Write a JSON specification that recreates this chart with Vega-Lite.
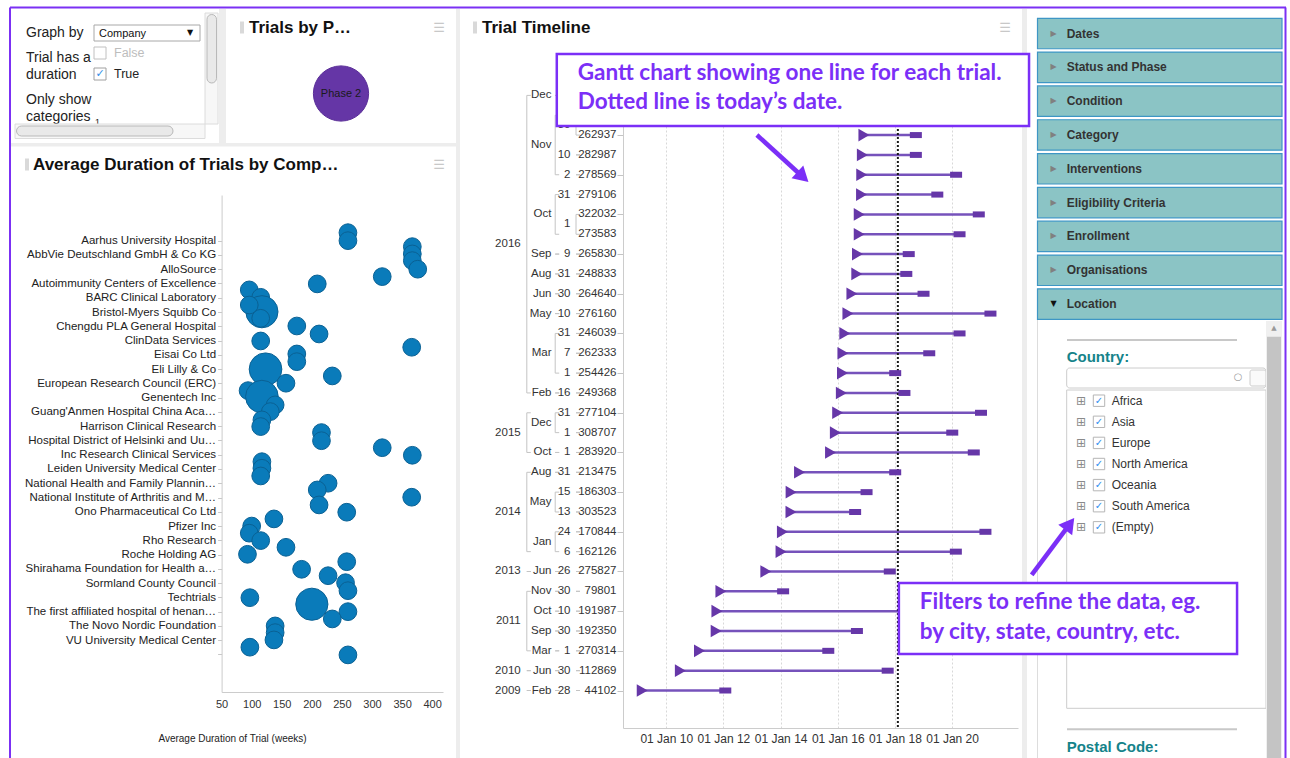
{
  "$schema": "https://vega.github.io/schema/vega-lite/v6.json",
  "autosize": {"type": "none"},
  "padding": {"left": 623, "top": 85, "right": 272, "bottom": 30},
  "width": 395,
  "height": 643,
  "background": "white",
  "config": {"font": "Liberation Sans", "view": {"stroke": null}},
  "data": {"values": [{}]},
  "datasets": {
    "trials": [
      {"row": 1, "id": "279994", "start": "2016-12-05", "end": "2019-02-01"},
      {"row": 2, "id": "281770", "start": "2016-11-30", "end": "2019-05-15"},
      {"row": 3, "id": "262937", "start": "2016-11-30", "end": "2018-09-25"},
      {"row": 4, "id": "282987", "start": "2016-11-10", "end": "2018-09-25"},
      {"row": 5, "id": "278569", "start": "2016-11-02", "end": "2020-02-21"},
      {"row": 6, "id": "279106", "start": "2016-10-31", "end": "2019-06-26"},
      {"row": 7, "id": "322032", "start": "2016-10-01", "end": "2020-12-07"},
      {"row": 8, "id": "273583", "start": "2016-10-01", "end": "2020-04-05"},
      {"row": 9, "id": "265830", "start": "2016-09-09", "end": "2018-06-26"},
      {"row": 10, "id": "248833", "start": "2016-08-31", "end": "2018-05-26"},
      {"row": 11, "id": "264640", "start": "2016-06-30", "end": "2019-01-01"},
      {"row": 12, "id": "276160", "start": "2016-05-10", "end": "2021-05-05"},
      {"row": 13, "id": "246039", "start": "2016-03-31", "end": "2020-04-05"},
      {"row": 14, "id": "262333", "start": "2016-03-07", "end": "2019-03-15"},
      {"row": 15, "id": "254426", "start": "2016-03-01", "end": "2018-01-04"},
      {"row": 16, "id": "249368", "start": "2016-02-16", "end": "2018-05-02"},
      {"row": 17, "id": "277104", "start": "2015-12-31", "end": "2021-01-04"},
      {"row": 18, "id": "308707", "start": "2015-12-01", "end": "2020-01-03"},
      {"row": 19, "id": "283920", "start": "2015-10-01", "end": "2020-10-04"},
      {"row": 20, "id": "213475", "start": "2014-08-31", "end": "2018-01-04"},
      {"row": 21, "id": "186303", "start": "2014-05-15", "end": "2017-01-03"},
      {"row": 22, "id": "303523", "start": "2014-05-13", "end": "2016-08-10"},
      {"row": 23, "id": "170844", "start": "2014-01-24", "end": "2021-03-02"},
      {"row": 24, "id": "162126", "start": "2014-01-06", "end": "2020-02-18"},
      {"row": 25, "id": "275827", "start": "2013-06-26", "end": "2017-10-27"},
      {"row": 26, "id": "79801", "start": "2011-11-30", "end": "2014-02-02"},
      {"row": 27, "id": "191987", "start": "2011-10-10", "end": "2020-06-01"},
      {"row": 28, "id": "192350", "start": "2011-09-30", "end": "2016-09-02"},
      {"row": 29, "id": "270314", "start": "2011-03-01", "end": "2015-09-02"},
      {"row": 30, "id": "112869", "start": "2010-06-30", "end": "2017-09-30"},
      {"row": 31, "id": "44102", "start": "2009-02-28", "end": "2012-01-25"}
    ],
    "groups": [
      {"level": "year", "label": "2016", "from": 1, "to": 16, "mid": 8.5},
      {"level": "year", "label": "2015", "from": 17, "to": 19, "mid": 18},
      {"level": "year", "label": "2014", "from": 20, "to": 24, "mid": 22},
      {"level": "year", "label": "2013", "from": 25, "to": 25, "mid": 25},
      {"level": "year", "label": "2011", "from": 26, "to": 29, "mid": 27.5},
      {"level": "year", "label": "2010", "from": 30, "to": 30, "mid": 30},
      {"level": "year", "label": "2009", "from": 31, "to": 31, "mid": 31},
      {"level": "month", "label": "Dec", "from": 1, "to": 1, "mid": 1},
      {"level": "month", "label": "Nov", "from": 2, "to": 5, "mid": 3.5},
      {"level": "month", "label": "Oct", "from": 6, "to": 8, "mid": 7},
      {"level": "month", "label": "Sep", "from": 9, "to": 9, "mid": 9},
      {"level": "month", "label": "Aug", "from": 10, "to": 10, "mid": 10},
      {"level": "month", "label": "Jun", "from": 11, "to": 11, "mid": 11},
      {"level": "month", "label": "May", "from": 12, "to": 12, "mid": 12},
      {"level": "month", "label": "Mar", "from": 13, "to": 15, "mid": 14},
      {"level": "month", "label": "Feb", "from": 16, "to": 16, "mid": 16},
      {"level": "month", "label": "Dec", "from": 17, "to": 18, "mid": 17.5},
      {"level": "month", "label": "Oct", "from": 19, "to": 19, "mid": 19},
      {"level": "month", "label": "Aug", "from": 20, "to": 20, "mid": 20},
      {"level": "month", "label": "May", "from": 21, "to": 22, "mid": 21.5},
      {"level": "month", "label": "Jan", "from": 23, "to": 24, "mid": 23.5},
      {"level": "month", "label": "Jun", "from": 25, "to": 25, "mid": 25},
      {"level": "month", "label": "Nov", "from": 26, "to": 26, "mid": 26},
      {"level": "month", "label": "Oct", "from": 27, "to": 27, "mid": 27},
      {"level": "month", "label": "Sep", "from": 28, "to": 28, "mid": 28},
      {"level": "month", "label": "Mar", "from": 29, "to": 29, "mid": 29},
      {"level": "month", "label": "Jun", "from": 30, "to": 30, "mid": 30},
      {"level": "month", "label": "Feb", "from": 31, "to": 31, "mid": 31},
      {"level": "day", "label": "30", "from": 2, "to": 3, "mid": 2.5},
      {"level": "day", "label": "10", "from": 4, "to": 4, "mid": 4},
      {"level": "day", "label": "2", "from": 5, "to": 5, "mid": 5},
      {"level": "day", "label": "31", "from": 6, "to": 6, "mid": 6},
      {"level": "day", "label": "1", "from": 7, "to": 8, "mid": 7.5},
      {"level": "day", "label": "9", "from": 9, "to": 9, "mid": 9},
      {"level": "day", "label": "31", "from": 10, "to": 10, "mid": 10},
      {"level": "day", "label": "30", "from": 11, "to": 11, "mid": 11},
      {"level": "day", "label": "10", "from": 12, "to": 12, "mid": 12},
      {"level": "day", "label": "31", "from": 13, "to": 13, "mid": 13},
      {"level": "day", "label": "7", "from": 14, "to": 14, "mid": 14},
      {"level": "day", "label": "1", "from": 15, "to": 15, "mid": 15},
      {"level": "day", "label": "16", "from": 16, "to": 16, "mid": 16},
      {"level": "day", "label": "31", "from": 17, "to": 17, "mid": 17},
      {"level": "day", "label": "1", "from": 18, "to": 18, "mid": 18},
      {"level": "day", "label": "1", "from": 19, "to": 19, "mid": 19},
      {"level": "day", "label": "31", "from": 20, "to": 20, "mid": 20},
      {"level": "day", "label": "15", "from": 21, "to": 21, "mid": 21},
      {"level": "day", "label": "13", "from": 22, "to": 22, "mid": 22},
      {"level": "day", "label": "24", "from": 23, "to": 23, "mid": 23},
      {"level": "day", "label": "6", "from": 24, "to": 24, "mid": 24},
      {"level": "day", "label": "26", "from": 25, "to": 25, "mid": 25},
      {"level": "day", "label": "30", "from": 26, "to": 26, "mid": 26},
      {"level": "day", "label": "10", "from": 27, "to": 27, "mid": 27},
      {"level": "day", "label": "30", "from": 28, "to": 28, "mid": 28},
      {"level": "day", "label": "1", "from": 29, "to": 29, "mid": 29},
      {"level": "day", "label": "30", "from": 30, "to": 30, "mid": 30},
      {"level": "day", "label": "28", "from": 31, "to": 31, "mid": 31}
    ],
    "bubbles": [
      {"company": "Aarhus University Hospital", "weeks": 260, "pos": 0.44, "trials": 1},
      {"company": "Aarhus University Hospital", "weeks": 260, "pos": 1.0, "trials": 1},
      {"company": "Aarhus University Hospital", "weeks": 367, "pos": 1.42, "trials": 1},
      {"company": "AbbVie Deutschland GmbH & Co KG", "weeks": 367, "pos": 1.93, "trials": 1},
      {"company": "AbbVie Deutschland GmbH & Co KG", "weeks": 367, "pos": 2.4, "trials": 1},
      {"company": "AlloSource", "weeks": 376, "pos": 3.0, "trials": 1},
      {"company": "Autoimmunity Centers of Excellence", "weeks": 317, "pos": 3.52, "trials": 1},
      {"company": "Autoimmunity Centers of Excellence", "weeks": 209, "pos": 4.03, "trials": 1},
      {"company": "Autoimmunity Centers of Excellence", "weeks": 96, "pos": 4.45, "trials": 1},
      {"company": "BARC Clinical Laboratory", "weeks": 115, "pos": 4.97, "trials": 1},
      {"company": "Bristol-Myers Squibb Co", "weeks": 117, "pos": 5.98, "trials": 3.3},
      {"company": "Bristol-Myers Squibb Co", "weeks": 96, "pos": 5.51, "trials": 1},
      {"company": "Bristol-Myers Squibb Co", "weeks": 115, "pos": 6.44, "trials": 1},
      {"company": "Chengdu PLA General Hospital", "weeks": 175, "pos": 6.98, "trials": 1},
      {"company": "ClinData Services", "weeks": 212, "pos": 7.54, "trials": 1},
      {"company": "ClinData Services", "weeks": 115, "pos": 8.03, "trials": 1},
      {"company": "ClinData Services", "weeks": 366, "pos": 8.47, "trials": 1},
      {"company": "Eisai Co Ltd", "weeks": 175, "pos": 8.94, "trials": 1},
      {"company": "Eisai Co Ltd", "weeks": 175, "pos": 9.48, "trials": 1},
      {"company": "Eli Lilly & Co", "weeks": 123, "pos": 10.01, "trials": 3.4},
      {"company": "Eli Lilly & Co", "weeks": 234, "pos": 10.48, "trials": 1},
      {"company": "European Research Council (ERC)", "weeks": 157, "pos": 10.99, "trials": 1},
      {"company": "Genentech Inc", "weeks": 94, "pos": 11.51, "trials": 1},
      {"company": "Genentech Inc", "weeks": 117, "pos": 11.93, "trials": 3.4},
      {"company": "Guang'Anmen Hospital China Academy", "weeks": 139, "pos": 12.51, "trials": 1},
      {"company": "Guang'Anmen Hospital China Academy", "weeks": 131, "pos": 12.98, "trials": 1},
      {"company": "Harrison Clinical Research", "weeks": 117, "pos": 13.56, "trials": 1},
      {"company": "Harrison Clinical Research", "weeks": 115, "pos": 14.03, "trials": 1},
      {"company": "Harrison Clinical Research", "weeks": 216, "pos": 14.45, "trials": 1},
      {"company": "Hospital District of Helsinki and Uusimaa", "weeks": 216, "pos": 15.02, "trials": 1},
      {"company": "Inc Research Clinical Services", "weeks": 317, "pos": 15.51, "trials": 1},
      {"company": "Inc Research Clinical Services", "weeks": 367, "pos": 16.04, "trials": 1},
      {"company": "Inc Research Clinical Services", "weeks": 117, "pos": 16.49, "trials": 1},
      {"company": "Leiden University Medical Center", "weeks": 117, "pos": 16.95, "trials": 1},
      {"company": "Leiden University Medical Center", "weeks": 115, "pos": 17.49, "trials": 1},
      {"company": "National Health and Family Planning Commission", "weeks": 227, "pos": 18.0, "trials": 1},
      {"company": "National Health and Family Planning Commission", "weeks": 209, "pos": 18.47, "trials": 1},
      {"company": "National Institute of Arthritis and Musculoskeletal", "weeks": 366, "pos": 18.98, "trials": 1},
      {"company": "Ono Pharmaceutical Co Ltd", "weeks": 212, "pos": 19.52, "trials": 1},
      {"company": "Ono Pharmaceutical Co Ltd", "weeks": 258, "pos": 20.03, "trials": 1},
      {"company": "Pfizer Inc", "weeks": 137, "pos": 20.5, "trials": 1},
      {"company": "Pfizer Inc", "weeks": 100, "pos": 21.0, "trials": 1},
      {"company": "Rho Research", "weeks": 96, "pos": 21.5, "trials": 1},
      {"company": "Rho Research", "weeks": 115, "pos": 22.02, "trials": 1},
      {"company": "Rho Research", "weeks": 157, "pos": 22.49, "trials": 1},
      {"company": "Roche Holding AG", "weeks": 93, "pos": 22.98, "trials": 1},
      {"company": "Shirahama Foundation for Health and Aging", "weeks": 258, "pos": 23.5, "trials": 1},
      {"company": "Shirahama Foundation for Health and Aging", "weeks": 183, "pos": 24.03, "trials": 1},
      {"company": "Shirahama Foundation for Health and Aging", "weeks": 227, "pos": 24.48, "trials": 1},
      {"company": "Sormland County Council", "weeks": 256, "pos": 24.97, "trials": 1},
      {"company": "Techtrials", "weeks": 260, "pos": 25.53, "trials": 1},
      {"company": "Techtrials", "weeks": 97, "pos": 26.02, "trials": 1},
      {"company": "Techtrials", "weeks": 200, "pos": 26.48, "trials": 3.3},
      {"company": "The first affiliated hospital of henan", "weeks": 260, "pos": 27.0, "trials": 1},
      {"company": "The Novo Nordic Foundation", "weeks": 234, "pos": 27.51, "trials": 1},
      {"company": "The Novo Nordic Foundation", "weeks": 139, "pos": 28.0, "trials": 1},
      {"company": "The Novo Nordic Foundation", "weeks": 139, "pos": 28.47, "trials": 1},
      {"company": "VU University Medical Center", "weeks": 137, "pos": 28.98, "trials": 1},
      {"company": "VU University Medical Center", "weeks": 97, "pos": 29.49, "trials": 1},
      {"company": "", "weeks": 260, "pos": 30.03, "trials": 1}
    ],
    "filters": [
      {"name": "Dates", "order": 1, "open": false},
      {"name": "Status and Phase", "order": 2, "open": false},
      {"name": "Condition", "order": 3, "open": false},
      {"name": "Category", "order": 4, "open": false},
      {"name": "Interventions", "order": 5, "open": false},
      {"name": "Eligibility Criteria", "order": 6, "open": false},
      {"name": "Enrollment", "order": 7, "open": false},
      {"name": "Organisations", "order": 8, "open": false},
      {"name": "Location", "order": 9, "open": true}
    ],
    "countries": [
      {"name": "Africa", "order": 1},
      {"name": "Asia", "order": 2},
      {"name": "Europe", "order": 3},
      {"name": "North America", "order": 4},
      {"name": "Oceania", "order": 5},
      {"name": "South America", "order": 6},
      {"name": "(Empty)", "order": 7}
    ]
  },
  "resolve": {"scale": {"x": "independent", "y": "independent"}},
  "layer": [
    {
      "layer": [
        {"mark": {"type": "rect", "fill": "#ededed"}, "encoding": {"x": {"datum": 219, "type": "quantitative", "scale": {"domain": [0, 1290], "range": [-623, 667]}, "axis": null}, "x2": {"datum": 226}, "y": {"datum": 9, "type": "quantitative", "scale": {"domain": [0, 758], "range": [-85, 673]}, "axis": null}, "y2": {"datum": 144}}},
        {"mark": {"type": "rect", "fill": "#ededed"}, "encoding": {"x": {"datum": 11, "type": "quantitative", "scale": {"domain": [0, 1290], "range": [-623, 667]}, "axis": null}, "x2": {"datum": 456}, "y": {"datum": 143, "type": "quantitative", "scale": {"domain": [0, 758], "range": [-85, 673]}, "axis": null}, "y2": {"datum": 146.5}}},
        {"mark": {"type": "rect", "fill": "#ededed"}, "encoding": {"x": {"datum": 456, "type": "quantitative", "scale": {"domain": [0, 1290], "range": [-623, 667]}, "axis": null}, "x2": {"datum": 460}, "y": {"datum": 9, "type": "quantitative", "scale": {"domain": [0, 758], "range": [-85, 673]}, "axis": null}, "y2": {"datum": 758}}},
        {"mark": {"type": "rect", "fill": "#ededed"}, "encoding": {"x": {"datum": 1022, "type": "quantitative", "scale": {"domain": [0, 1290], "range": [-623, 667]}, "axis": null}, "x2": {"datum": 1027}, "y": {"datum": 9, "type": "quantitative", "scale": {"domain": [0, 758], "range": [-85, 673]}, "axis": null}, "y2": {"datum": 758}}},
        {"mark": {"type": "rule", "color": "#dddddd"}, "encoding": {"x": {"datum": 1037.5, "type": "quantitative", "scale": {"domain": [0, 1290], "range": [-623, 667]}, "axis": null}, "y": {"datum": 320, "type": "quantitative", "scale": {"domain": [0, 758], "range": [-85, 673]}, "axis": null}, "y2": {"datum": 758}}},
        {"mark": {"type": "rule", "color": "#7b30f4", "strokeWidth": 2}, "encoding": {"x": {"datum": 10, "type": "quantitative", "scale": {"domain": [0, 1290], "range": [-623, 667]}, "axis": null}, "x2": {"datum": 1286}, "y": {"datum": 7.5, "type": "quantitative", "scale": {"domain": [0, 758], "range": [-85, 673]}, "axis": null}}},
        {"mark": {"type": "rule", "color": "#7b30f4", "strokeWidth": 2}, "encoding": {"x": {"datum": 10, "type": "quantitative", "scale": {"domain": [0, 1290], "range": [-623, 667]}, "axis": null}, "y": {"datum": 7.5, "type": "quantitative", "scale": {"domain": [0, 758], "range": [-85, 673]}, "axis": null}, "y2": {"datum": 758}}},
        {"mark": {"type": "rule", "color": "#7b30f4", "strokeWidth": 2}, "encoding": {"x": {"datum": 1285.5, "type": "quantitative", "scale": {"domain": [0, 1290], "range": [-623, 667]}, "axis": null}, "y": {"datum": 7.5, "type": "quantitative", "scale": {"domain": [0, 758], "range": [-85, 673]}, "axis": null}, "y2": {"datum": 758}}},
        {"mark": {"type": "text", "text": "Graph by", "align": "left", "baseline": "middle", "fontSize": 14, "color": "#222222"}, "encoding": {"x": {"datum": 26, "type": "quantitative", "scale": {"domain": [0, 1290], "range": [-623, 667]}, "axis": null}, "y": {"datum": 33, "type": "quantitative", "scale": {"domain": [0, 758], "range": [-85, 673]}, "axis": null}}},
        {"mark": {"type": "rect", "fill": "white", "stroke": "#a8a8a8"}, "encoding": {"x": {"datum": 94, "type": "quantitative", "scale": {"domain": [0, 1290], "range": [-623, 667]}, "axis": null}, "x2": {"datum": 200}, "y": {"datum": 25, "type": "quantitative", "scale": {"domain": [0, 758], "range": [-85, 673]}, "axis": null}, "y2": {"datum": 41}}},
        {"mark": {"type": "text", "text": "Company", "align": "left", "baseline": "middle", "fontSize": 11, "color": "#111111"}, "encoding": {"x": {"datum": 99, "type": "quantitative", "scale": {"domain": [0, 1290], "range": [-623, 667]}, "axis": null}, "y": {"datum": 33.5, "type": "quantitative", "scale": {"domain": [0, 758], "range": [-85, 673]}, "axis": null}}},
        {"mark": {"type": "text", "text": "▼", "align": "center", "baseline": "middle", "fontSize": 8, "font": "DejaVu Sans", "color": "#111111"}, "encoding": {"x": {"datum": 190, "type": "quantitative", "scale": {"domain": [0, 1290], "range": [-623, 667]}, "axis": null}, "y": {"datum": 33, "type": "quantitative", "scale": {"domain": [0, 758], "range": [-85, 673]}, "axis": null}}},
        {"mark": {"type": "text", "text": "Trial has a", "align": "left", "baseline": "middle", "fontSize": 14, "color": "#222222"}, "encoding": {"x": {"datum": 26, "type": "quantitative", "scale": {"domain": [0, 1290], "range": [-623, 667]}, "axis": null}, "y": {"datum": 57.5, "type": "quantitative", "scale": {"domain": [0, 758], "range": [-85, 673]}, "axis": null}}},
        {"mark": {"type": "text", "text": "duration", "align": "left", "baseline": "middle", "fontSize": 14, "color": "#222222"}, "encoding": {"x": {"datum": 26, "type": "quantitative", "scale": {"domain": [0, 1290], "range": [-623, 667]}, "axis": null}, "y": {"datum": 74.5, "type": "quantitative", "scale": {"domain": [0, 758], "range": [-85, 673]}, "axis": null}}},
        {"mark": {"type": "rect", "fill": "white", "stroke": "#c0c0c0"}, "encoding": {"x": {"datum": 94, "type": "quantitative", "scale": {"domain": [0, 1290], "range": [-623, 667]}, "axis": null}, "x2": {"datum": 106}, "y": {"datum": 47, "type": "quantitative", "scale": {"domain": [0, 758], "range": [-85, 673]}, "axis": null}, "y2": {"datum": 59}}},
        {"mark": {"type": "text", "text": "False", "align": "left", "baseline": "middle", "fontSize": 12.5, "color": "#bdbdbd"}, "encoding": {"x": {"datum": 114, "type": "quantitative", "scale": {"domain": [0, 1290], "range": [-623, 667]}, "axis": null}, "y": {"datum": 53, "type": "quantitative", "scale": {"domain": [0, 758], "range": [-85, 673]}, "axis": null}}},
        {"mark": {"type": "rect", "fill": "white", "stroke": "#a0a0a0"}, "encoding": {"x": {"datum": 94, "type": "quantitative", "scale": {"domain": [0, 1290], "range": [-623, 667]}, "axis": null}, "x2": {"datum": 106}, "y": {"datum": 68, "type": "quantitative", "scale": {"domain": [0, 758], "range": [-85, 673]}, "axis": null}, "y2": {"datum": 80}}},
        {"mark": {"type": "text", "text": "✓", "align": "center", "baseline": "middle", "fontSize": 11, "font": "DejaVu Sans", "color": "#3390e8"}, "encoding": {"x": {"datum": 100, "type": "quantitative", "scale": {"domain": [0, 1290], "range": [-623, 667]}, "axis": null}, "y": {"datum": 74, "type": "quantitative", "scale": {"domain": [0, 758], "range": [-85, 673]}, "axis": null}}},
        {"mark": {"type": "text", "text": "True", "align": "left", "baseline": "middle", "fontSize": 12.5, "color": "#222222"}, "encoding": {"x": {"datum": 114, "type": "quantitative", "scale": {"domain": [0, 1290], "range": [-623, 667]}, "axis": null}, "y": {"datum": 74, "type": "quantitative", "scale": {"domain": [0, 758], "range": [-85, 673]}, "axis": null}}},
        {"mark": {"type": "text", "text": "Only show", "align": "left", "baseline": "middle", "fontSize": 14, "color": "#222222"}, "encoding": {"x": {"datum": 26, "type": "quantitative", "scale": {"domain": [0, 1290], "range": [-623, 667]}, "axis": null}, "y": {"datum": 99.5, "type": "quantitative", "scale": {"domain": [0, 758], "range": [-85, 673]}, "axis": null}}},
        {"mark": {"type": "text", "text": "categories", "align": "left", "baseline": "middle", "fontSize": 14, "color": "#222222"}, "encoding": {"x": {"datum": 26, "type": "quantitative", "scale": {"domain": [0, 1290], "range": [-623, 667]}, "axis": null}, "y": {"datum": 117, "type": "quantitative", "scale": {"domain": [0, 758], "range": [-85, 673]}, "axis": null}}},
        {"mark": {"type": "text", "text": "1", "align": "left", "baseline": "middle", "fontSize": 9, "color": "#222222"}, "encoding": {"x": {"datum": 95, "type": "quantitative", "scale": {"domain": [0, 1290], "range": [-623, 667]}, "axis": null}, "y": {"datum": 121.5, "type": "quantitative", "scale": {"domain": [0, 758], "range": [-85, 673]}, "axis": null}}},
        {"mark": {"type": "rect", "fill": "#f7f7f7", "stroke": "#dcdcdc"}, "encoding": {"x": {"datum": 205, "type": "quantitative", "scale": {"domain": [0, 1290], "range": [-623, 667]}, "axis": null}, "x2": {"datum": 218}, "y": {"datum": 13, "type": "quantitative", "scale": {"domain": [0, 758], "range": [-85, 673]}, "axis": null}, "y2": {"datum": 124}}},
        {"mark": {"type": "rect", "fill": "#e9e9e9", "stroke": "#b9b9b9", "cornerRadius": 5}, "encoding": {"x": {"datum": 207, "type": "quantitative", "scale": {"domain": [0, 1290], "range": [-623, 667]}, "axis": null}, "x2": {"datum": 216.5}, "y": {"datum": 14.5, "type": "quantitative", "scale": {"domain": [0, 758], "range": [-85, 673]}, "axis": null}, "y2": {"datum": 83}}},
        {"mark": {"type": "rect", "fill": "#f7f7f7", "stroke": "#dcdcdc"}, "encoding": {"x": {"datum": 15, "type": "quantitative", "scale": {"domain": [0, 1290], "range": [-623, 667]}, "axis": null}, "x2": {"datum": 205}, "y": {"datum": 124, "type": "quantitative", "scale": {"domain": [0, 758], "range": [-85, 673]}, "axis": null}, "y2": {"datum": 138.5}}},
        {"mark": {"type": "rect", "fill": "#e9e9e9", "stroke": "#b9b9b9", "cornerRadius": 5}, "encoding": {"x": {"datum": 16.5, "type": "quantitative", "scale": {"domain": [0, 1290], "range": [-623, 667]}, "axis": null}, "x2": {"datum": 173}, "y": {"datum": 126, "type": "quantitative", "scale": {"domain": [0, 758], "range": [-85, 673]}, "axis": null}, "y2": {"datum": 136}}},
        {"mark": {"type": "rect", "fill": "#d9d9d9"}, "encoding": {"x": {"datum": 240, "type": "quantitative", "scale": {"domain": [0, 1290], "range": [-623, 667]}, "axis": null}, "x2": {"datum": 244}, "y": {"datum": 21.5, "type": "quantitative", "scale": {"domain": [0, 758], "range": [-85, 673]}, "axis": null}, "y2": {"datum": 33.5}}},
        {"mark": {"type": "text", "text": "Trials by P…", "align": "left", "baseline": "middle", "fontSize": 17, "fontWeight": "bold", "color": "#111111"}, "encoding": {"x": {"datum": 249, "type": "quantitative", "scale": {"domain": [0, 1290], "range": [-623, 667]}, "axis": null}, "y": {"datum": 27.5, "type": "quantitative", "scale": {"domain": [0, 758], "range": [-85, 673]}, "axis": null}}},
        {"mark": {"type": "text", "text": "☰", "align": "center", "baseline": "middle", "fontSize": 13, "font": "DejaVu Sans", "color": "#c8c8c8"}, "encoding": {"x": {"datum": 439, "type": "quantitative", "scale": {"domain": [0, 1290], "range": [-623, 667]}, "axis": null}, "y": {"datum": 27.5, "type": "quantitative", "scale": {"domain": [0, 758], "range": [-85, 673]}, "axis": null}}},
        {"data": {"values": [{"phase": "Phase 2", "trials": 31}]}, "mark": {"type": "circle", "size": 3050, "color": "#6536a6", "opacity": 1, "stroke": "#5a2e98", "strokeWidth": 1}, "encoding": {"x": {"datum": 341, "type": "quantitative", "scale": {"domain": [0, 1290], "range": [-623, 667]}, "axis": null}, "y": {"datum": 93.5, "type": "quantitative", "scale": {"domain": [0, 758], "range": [-85, 673]}, "axis": null}}},
        {"data": {"values": [{"phase": "Phase 2", "trials": 31}]}, "mark": {"type": "text", "align": "center", "baseline": "middle", "fontSize": 11, "color": "#1a1a1a"}, "encoding": {"x": {"datum": 341, "type": "quantitative", "scale": {"domain": [0, 1290], "range": [-623, 667]}, "axis": null}, "y": {"datum": 93.5, "type": "quantitative", "scale": {"domain": [0, 758], "range": [-85, 673]}, "axis": null}, "text": {"field": "phase"}}},
        {"mark": {"type": "rect", "fill": "#d9d9d9"}, "encoding": {"x": {"datum": 25, "type": "quantitative", "scale": {"domain": [0, 1290], "range": [-623, 667]}, "axis": null}, "x2": {"datum": 29}, "y": {"datum": 158.5, "type": "quantitative", "scale": {"domain": [0, 758], "range": [-85, 673]}, "axis": null}, "y2": {"datum": 170.5}}},
        {"mark": {"type": "text", "text": "Average Duration of Trials by Comp…", "align": "left", "baseline": "middle", "fontSize": 17, "fontWeight": "bold", "color": "#111111"}, "encoding": {"x": {"datum": 33, "type": "quantitative", "scale": {"domain": [0, 1290], "range": [-623, 667]}, "axis": null}, "y": {"datum": 164.5, "type": "quantitative", "scale": {"domain": [0, 758], "range": [-85, 673]}, "axis": null}}},
        {"mark": {"type": "text", "text": "☰", "align": "center", "baseline": "middle", "fontSize": 13, "font": "DejaVu Sans", "color": "#c8c8c8"}, "encoding": {"x": {"datum": 439, "type": "quantitative", "scale": {"domain": [0, 1290], "range": [-623, 667]}, "axis": null}, "y": {"datum": 164.5, "type": "quantitative", "scale": {"domain": [0, 758], "range": [-85, 673]}, "axis": null}}},
        {"mark": {"type": "rect", "fill": "#d9d9d9"}, "encoding": {"x": {"datum": 473, "type": "quantitative", "scale": {"domain": [0, 1290], "range": [-623, 667]}, "axis": null}, "x2": {"datum": 477}, "y": {"datum": 21.5, "type": "quantitative", "scale": {"domain": [0, 758], "range": [-85, 673]}, "axis": null}, "y2": {"datum": 33.5}}},
        {"mark": {"type": "text", "text": "Trial Timeline", "align": "left", "baseline": "middle", "fontSize": 17, "fontWeight": "bold", "color": "#111111"}, "encoding": {"x": {"datum": 482, "type": "quantitative", "scale": {"domain": [0, 1290], "range": [-623, 667]}, "axis": null}, "y": {"datum": 27.5, "type": "quantitative", "scale": {"domain": [0, 758], "range": [-85, 673]}, "axis": null}}},
        {"mark": {"type": "text", "text": "☰", "align": "center", "baseline": "middle", "fontSize": 13, "font": "DejaVu Sans", "color": "#c8c8c8"}, "encoding": {"x": {"datum": 1005, "type": "quantitative", "scale": {"domain": [0, 1290], "range": [-623, 667]}, "axis": null}, "y": {"datum": 27.5, "type": "quantitative", "scale": {"domain": [0, 758], "range": [-85, 673]}, "axis": null}}},
        {"mark": {"type": "rule", "color": "#c8c8c8", "strokeWidth": 2}, "encoding": {"x": {"datum": 1067, "type": "quantitative", "scale": {"domain": [0, 1290], "range": [-623, 667]}, "axis": null}, "x2": {"datum": 1237}, "y": {"datum": 340, "type": "quantitative", "scale": {"domain": [0, 758], "range": [-85, 673]}, "axis": null}}},
        {"mark": {"type": "text", "text": "Country:", "align": "left", "baseline": "middle", "fontSize": 15, "fontWeight": "bold", "color": "#15838a"}, "encoding": {"x": {"datum": 1066.7, "type": "quantitative", "scale": {"domain": [0, 1290], "range": [-623, 667]}, "axis": null}, "y": {"datum": 357, "type": "quantitative", "scale": {"domain": [0, 758], "range": [-85, 673]}, "axis": null}}},
        {"mark": {"type": "rect", "fill": "white", "stroke": "#cccccc", "cornerRadius": 3}, "encoding": {"x": {"datum": 1066.7, "type": "quantitative", "scale": {"domain": [0, 1290], "range": [-623, 667]}, "axis": null}, "x2": {"datum": 1266}, "y": {"datum": 368, "type": "quantitative", "scale": {"domain": [0, 758], "range": [-85, 673]}, "axis": null}, "y2": {"datum": 388}}},
        {"mark": {"type": "rect", "fill": "#fafafa", "stroke": "#cccccc", "cornerRadius": 2}, "encoding": {"x": {"datum": 1250, "type": "quantitative", "scale": {"domain": [0, 1290], "range": [-623, 667]}, "axis": null}, "x2": {"datum": 1266}, "y": {"datum": 370, "type": "quantitative", "scale": {"domain": [0, 758], "range": [-85, 673]}, "axis": null}, "y2": {"datum": 386}}},
        {"mark": {"type": "text", "text": "○", "align": "center", "baseline": "middle", "fontSize": 10, "font": "DejaVu Sans", "color": "#9a9a9a"}, "encoding": {"x": {"datum": 1238, "type": "quantitative", "scale": {"domain": [0, 1290], "range": [-623, 667]}, "axis": null}, "y": {"datum": 377, "type": "quantitative", "scale": {"domain": [0, 758], "range": [-85, 673]}, "axis": null}}},
        {"mark": {"type": "rect", "fillOpacity": 0, "stroke": "#cccccc"}, "encoding": {"x": {"datum": 1066.7, "type": "quantitative", "scale": {"domain": [0, 1290], "range": [-623, 667]}, "axis": null}, "x2": {"datum": 1266}, "y": {"datum": 390, "type": "quantitative", "scale": {"domain": [0, 758], "range": [-85, 673]}, "axis": null}, "y2": {"datum": 708.3}}},
        {"mark": {"type": "rule", "color": "#c8c8c8", "strokeWidth": 2}, "encoding": {"x": {"datum": 1067, "type": "quantitative", "scale": {"domain": [0, 1290], "range": [-623, 667]}, "axis": null}, "x2": {"datum": 1237}, "y": {"datum": 729.3, "type": "quantitative", "scale": {"domain": [0, 758], "range": [-85, 673]}, "axis": null}}},
        {"mark": {"type": "text", "text": "Postal Code:", "align": "left", "baseline": "middle", "fontSize": 15, "fontWeight": "bold", "color": "#15838a"}, "encoding": {"x": {"datum": 1066.7, "type": "quantitative", "scale": {"domain": [0, 1290], "range": [-623, 667]}, "axis": null}, "y": {"datum": 746.7, "type": "quantitative", "scale": {"domain": [0, 758], "range": [-85, 673]}, "axis": null}}},
        {"mark": {"type": "rect", "fill": "#f0f0f0"}, "encoding": {"x": {"datum": 1266, "type": "quantitative", "scale": {"domain": [0, 1290], "range": [-623, 667]}, "axis": null}, "x2": {"datum": 1282}, "y": {"datum": 321, "type": "quantitative", "scale": {"domain": [0, 758], "range": [-85, 673]}, "axis": null}, "y2": {"datum": 758}}},
        {"mark": {"type": "rect", "fill": "#c4c4c4"}, "encoding": {"x": {"datum": 1267, "type": "quantitative", "scale": {"domain": [0, 1290], "range": [-623, 667]}, "axis": null}, "x2": {"datum": 1281}, "y": {"datum": 336.7, "type": "quantitative", "scale": {"domain": [0, 758], "range": [-85, 673]}, "axis": null}, "y2": {"datum": 758}}},
        {"mark": {"type": "text", "text": "▲", "align": "center", "baseline": "middle", "fontSize": 7, "font": "DejaVu Sans", "color": "#9a9a9a"}, "encoding": {"x": {"datum": 1274, "type": "quantitative", "scale": {"domain": [0, 1290], "range": [-623, 667]}, "axis": null}, "y": {"datum": 328, "type": "quantitative", "scale": {"domain": [0, 758], "range": [-85, 673]}, "axis": null}}}
      ]
    },
    {
      "data": {"name": "filters"},
      "encoding": {"y": {"field": "order", "type": "ordinal", "scale": {"type": "band", "range": [-68.4, 236], "paddingInner": 0.1, "paddingOuter": 0.05}, "axis": null}},
      "layer": [
        {"mark": {"type": "rect", "fill": "#8bc4c5", "stroke": "#3e96c5", "strokeWidth": 1.2}, "encoding": {"x": {"datum": 1037.5, "type": "quantitative", "scale": {"domain": [0, 1290], "range": [-623, 667]}, "axis": null}, "x2": {"datum": 1282}}},
        {"mark": {"type": "text", "align": "center", "baseline": "middle", "fontSize": 8, "font": "DejaVu Sans"}, "encoding": {"x": {"datum": 1053.5, "type": "quantitative", "scale": {"domain": [0, 1290], "range": [-623, 667]}, "axis": null}, "text": {"condition": {"test": "datum.open", "value": "▼"}, "value": "▶"}, "color": {"condition": {"test": "datum.open", "value": "#111111"}, "value": "#808080"}}},
        {"mark": {"type": "text", "align": "left", "baseline": "middle", "fontSize": 12, "fontWeight": "bold", "color": "#333333"}, "encoding": {"x": {"datum": 1066.7, "type": "quantitative", "scale": {"domain": [0, 1290], "range": [-623, 667]}, "axis": null}, "text": {"field": "name"}}}
      ]
    },
    {
      "data": {"name": "countries"},
      "encoding": {"y": {"field": "order", "type": "ordinal", "scale": {"type": "band", "range": [305.15, 452.85], "paddingInner": 0, "paddingOuter": 0}, "axis": null}},
      "layer": [
        {"mark": {"type": "text", "text": "⊞", "align": "center", "baseline": "middle", "fontSize": 12, "font": "DejaVu Sans", "color": "#8a8a8a"}, "encoding": {"x": {"datum": 1081, "type": "quantitative", "scale": {"domain": [0, 1290], "range": [-623, 667]}, "axis": null}}},
        {"mark": {"type": "square", "size": 130, "filled": true, "fill": "white", "stroke": "#b5b5b5", "strokeWidth": 1, "opacity": 1}, "encoding": {"x": {"datum": 1099, "type": "quantitative", "scale": {"domain": [0, 1290], "range": [-623, 667]}, "axis": null}}},
        {"mark": {"type": "text", "text": "✓", "align": "center", "baseline": "middle", "fontSize": 10, "font": "DejaVu Sans", "fontWeight": "bold", "color": "#2f8ff0"}, "encoding": {"x": {"datum": 1099, "type": "quantitative", "scale": {"domain": [0, 1290], "range": [-623, 667]}, "axis": null}}},
        {"mark": {"type": "text", "align": "left", "baseline": "middle", "fontSize": 12, "color": "#333333"}, "encoding": {"x": {"datum": 1111.7, "type": "quantitative", "scale": {"domain": [0, 1290], "range": [-623, 667]}, "axis": null}, "text": {"field": "name"}}}
      ]
    },
    {
      "data": {"name": "bubbles"},
      "mark": {"type": "circle", "fill": "#0a7bba", "stroke": "#0a6194", "strokeWidth": 1, "opacity": 1, "fillOpacity": 1},
      "encoding": {
        "x": {
          "field": "weeks", "type": "quantitative",
          "scale": {"domain": [50, 418], "range": [-401.4, -180]},
          "axis": {"orient": "bottom", "offset": -36, "values": [50, 100, 150, 200, 250, 300, 350, 400], "grid": false, "ticks": false, "labelFontSize": 11, "labelColor": "#333333", "labelPadding": 6, "labelFlush": false, "labelOverlap": false, "domainColor": "#cccccc", "title": "Average Duration of Trial (weeks)", "titleFontSize": 10, "titleFontWeight": "normal", "titleColor": "#222222", "titleX": -391, "titleY": 46, "titleBaseline": "middle", "titleAlign": "center"}
        },
        "y": {
          "field": "pos", "type": "quantitative",
          "scale": {"domain": [-2.2, 32.63], "range": [110, 607]},
          "axis": {"orient": "left", "offset": 401.4, "values": [1, 2, 3, 4, 5, 6, 7, 8, 9, 10, 11, 12, 13, 14, 15, 16, 17, 18, 19, 20, 21, 22, 23, 24, 25, 26, 27, 28, 29, 30], "labelExpr": "['Aarhus University Hospital','AbbVie Deutschland GmbH & Co KG','AlloSource','Autoimmunity Centers of Excellence','BARC Clinical Laboratory','Bristol-Myers Squibb Co','Chengdu PLA General Hospital','ClinData Services','Eisai Co Ltd','Eli Lilly & Co','European Research Council (ERC)','Genentech Inc',\"Guang'Anmen Hospital China Aca…\",'Harrison Clinical Research','Hospital District of Helsinki and Uu…','Inc Research Clinical Services','Leiden University Medical Center','National Health and Family Plannin…','National Institute of Arthritis and M…','Ono Pharmaceutical Co Ltd','Pfizer Inc','Rho Research','Roche Holding AG','Shirahama Foundation for Health a…','Sormland County Council','Techtrials','The first affiliated hospital of henan…','The Novo Nordic Foundation','VU University Medical Center',''][datum.value - 1]", "labelFontSize": 11.5, "labelColor": "#222222", "labelLimit": 200, "labelPadding": 2, "labelOverlap": false, "tickSize": 4, "tickColor": "#c8c8c8", "domainColor": "#cccccc", "grid": false, "title": null}
        },
        "size": {"field": "trials", "type": "quantitative", "scale": {"domain": [0, 4], "range": [0, 1256]}, "legend": null}
      }
    },
    {
      "data": {"name": "groups"},
      "layer": [
        {"transform": [{"filter": "datum.level === 'year'"}], "mark": {"type": "rule", "color": "#c4c4c4"}, "encoding": {"x": {"datum": 526.8, "type": "quantitative", "scale": {"domain": [0, 1290], "range": [-623, 667]}, "axis": null}, "y": {"field": "from", "type": "quantitative", "scale": {"domain": [0.476, 32.89], "range": [0, 643]}, "axis": null}, "y2": {"field": "to"}}},
        {"transform": [{"filter": "datum.level === 'month'"}], "mark": {"type": "rule", "color": "#c4c4c4"}, "encoding": {"x": {"datum": 555.2, "type": "quantitative", "scale": {"domain": [0, 1290], "range": [-623, 667]}, "axis": null}, "y": {"field": "from", "type": "quantitative", "scale": {"domain": [0.476, 32.89], "range": [0, 643]}, "axis": null}, "y2": {"field": "to"}}},
        {"transform": [{"filter": "datum.level === 'day'"}], "mark": {"type": "rule", "color": "#c4c4c4"}, "encoding": {"x": {"datum": 576, "type": "quantitative", "scale": {"domain": [0, 1290], "range": [-623, 667]}, "axis": null}, "y": {"field": "from", "type": "quantitative", "scale": {"domain": [0.476, 32.89], "range": [0, 643]}, "axis": null}, "y2": {"field": "to"}}},
        {"transform": [{"filter": "datum.level === 'year'"}, {"fold": ["from", "to"], "as": ["end", "value"]}], "mark": {"type": "point", "shape": "M0,0H2", "size": 16, "filled": false, "color": "#c4c4c4", "strokeWidth": 1, "opacity": 1}, "encoding": {"x": {"datum": 526.8, "type": "quantitative", "scale": {"domain": [0, 1290], "range": [-623, 667]}, "axis": null}, "y": {"field": "value", "type": "quantitative", "scale": {"domain": [0.476, 32.89], "range": [0, 643]}, "axis": null}}},
        {"transform": [{"filter": "datum.level === 'month'"}, {"fold": ["from", "to"], "as": ["end", "value"]}], "mark": {"type": "point", "shape": "M0,0H2", "size": 16, "filled": false, "color": "#c4c4c4", "strokeWidth": 1, "opacity": 1}, "encoding": {"x": {"datum": 555.2, "type": "quantitative", "scale": {"domain": [0, 1290], "range": [-623, 667]}, "axis": null}, "y": {"field": "value", "type": "quantitative", "scale": {"domain": [0.476, 32.89], "range": [0, 643]}, "axis": null}}},
        {"transform": [{"filter": "datum.level === 'day'"}, {"fold": ["from", "to"], "as": ["end", "value"]}], "mark": {"type": "point", "shape": "M0,0H2", "size": 16, "filled": false, "color": "#c4c4c4", "strokeWidth": 1, "opacity": 1}, "encoding": {"x": {"datum": 576, "type": "quantitative", "scale": {"domain": [0, 1290], "range": [-623, 667]}, "axis": null}, "y": {"field": "value", "type": "quantitative", "scale": {"domain": [0.476, 32.89], "range": [0, 643]}, "axis": null}}},
        {"transform": [{"filter": "datum.level === 'year'"}], "mark": {"type": "text", "align": "right", "baseline": "middle", "fontSize": 11.5, "color": "#333333"}, "encoding": {"x": {"datum": 520.7, "type": "quantitative", "scale": {"domain": [0, 1290], "range": [-623, 667]}, "axis": null}, "y": {"field": "mid", "type": "quantitative", "scale": {"domain": [0.476, 32.89], "range": [0, 643]}, "axis": null}, "text": {"field": "label"}}},
        {"transform": [{"filter": "datum.level === 'month'"}], "mark": {"type": "text", "align": "right", "baseline": "middle", "fontSize": 11.5, "color": "#333333"}, "encoding": {"x": {"datum": 551.5, "type": "quantitative", "scale": {"domain": [0, 1290], "range": [-623, 667]}, "axis": null}, "y": {"field": "mid", "type": "quantitative", "scale": {"domain": [0.476, 32.89], "range": [0, 643]}, "axis": null}, "text": {"field": "label"}}},
        {"transform": [{"filter": "datum.level === 'day'"}], "mark": {"type": "text", "align": "right", "baseline": "middle", "fontSize": 11.5, "color": "#333333"}, "encoding": {"x": {"datum": 570.5, "type": "quantitative", "scale": {"domain": [0, 1290], "range": [-623, 667]}, "axis": null}, "y": {"field": "mid", "type": "quantitative", "scale": {"domain": [0.476, 32.89], "range": [0, 643]}, "axis": null}, "text": {"field": "label"}}},
        {"data": {"name": "trials"}, "transform": [{"filter": "datum.row > 2"}], "mark": {"type": "text", "align": "right", "baseline": "middle", "fontSize": 11.5, "color": "#333333"}, "encoding": {"x": {"datum": 616.5, "type": "quantitative", "scale": {"domain": [0, 1290], "range": [-623, 667]}, "axis": null}, "y": {"field": "row", "type": "quantitative", "scale": {"domain": [0.476, 32.89], "range": [0, 643]}, "axis": null}, "text": {"field": "id"}}}
      ]
    },
    {
      "data": {"name": "trials"},
      "layer": [
        {
          "mark": {"type": "rule", "color": "#7652bb", "strokeWidth": 2.5},
          "encoding": {
            "x": {"field": "start", "type": "temporal", "scale": {"domain": [{"year": 2008, "month": 6, "date": 27}, {"year": 2022, "month": 4, "date": 22}]},
              "axis": {"orient": "bottom", "values": [{"year": 2010, "month": 1, "date": 1}, {"year": 2012, "month": 1, "date": 1}, {"year": 2014, "month": 1, "date": 1}, {"year": 2016, "month": 1, "date": 1}, {"year": 2018, "month": 1, "date": 1}, {"year": 2020, "month": 1, "date": 1}], "format": "%d %b %y", "labelFontSize": 12, "labelColor": "#333333", "labelPadding": 5, "labelFlush": false, "labelOverlap": false, "ticks": false, "domainColor": "#cccccc", "grid": true, "gridColor": "#d8d8d8", "gridDash": [2, 2], "title": null}},
            "x2": {"field": "end"},
            "y": {"field": "row", "type": "quantitative", "scale": {"domain": [0.476, 32.89], "range": [0, 643]},
              "axis": {"orient": "left", "values": [1, 2, 3, 4, 5, 6, 7, 8, 9, 10, 11, 12, 13, 14, 15, 16, 17, 18, 19, 20, 21, 22, 23, 24, 25, 26, 27, 28, 29, 30, 31], "labels": false, "ticks": true, "tickSize": 6, "tickColor": "#c4c4c4", "domainColor": "#cccccc", "grid": false, "title": null}}
          }
        },
        {
          "data": {"values": [{}]},
          "mark": {"type": "rule", "color": "#1a1a1a", "strokeWidth": 2, "strokeDash": [2, 2]},
          "encoding": {"x": {"datum": {"year": 2018, "month": 2, "date": 7}, "type": "temporal", "scale": {"domain": [{"year": 2008, "month": 6, "date": 27}, {"year": 2022, "month": 4, "date": 22}]}}}
        },
        {
          "mark": {"type": "point", "shape": "M-1,-0.5H1V0.5H-1Z", "size": 144, "filled": true, "color": "#6637a8", "opacity": 1},
          "encoding": {
            "x": {"field": "end", "type": "temporal", "scale": {"domain": [{"year": 2008, "month": 6, "date": 27}, {"year": 2022, "month": 4, "date": 22}]}},
            "y": {"field": "row", "type": "quantitative", "scale": {"domain": [0.476, 32.89], "range": [0, 643]}}
          }
        },
        {
          "mark": {"type": "point", "shape": "triangle-right", "size": 160, "filled": true, "color": "#6637a8", "opacity": 1},
          "encoding": {
            "x": {"field": "start", "type": "temporal", "scale": {"domain": [{"year": 2008, "month": 6, "date": 27}, {"year": 2022, "month": 4, "date": 22}]}},
            "y": {"field": "row", "type": "quantitative", "scale": {"domain": [0.476, 32.89], "range": [0, 643]}}
          }
        },
        {
          "data": {"values": [{}]},
          "mark": {"type": "rect", "fill": "white", "stroke": "#7b2ff7", "strokeWidth": 2.5},
          "encoding": {
            "x": {"datum": {"year": 2006, "month": 3, "date": 4}, "type": "temporal", "scale": {"domain": [{"year": 2008, "month": 6, "date": 27}, {"year": 2022, "month": 4, "date": 22}]}},
            "x2": {"datum": {"year": 2022, "month": 9, "date": 10}},
            "y": {"datum": -1.087, "type": "quantitative", "scale": {"domain": [0.476, 32.89], "range": [0, 643]}},
            "y2": {"datum": 2.542}
          }
        },
        {
          "data": {"values": [{}]},
          "mark": {"type": "text", "text": "Gantt chart showing one line for each trial.", "align": "left", "baseline": "middle", "font": "Lato", "fontWeight": "bold", "fontSize": 22.5, "color": "#7b2ff7"},
          "encoding": {
            "x": {"datum": {"year": 2006, "month": 11, "date": 27}, "type": "temporal", "scale": {"domain": [{"year": 2008, "month": 6, "date": 27}, {"year": 2022, "month": 4, "date": 22}]}},
            "y": {"datum": -0.129, "type": "quantitative", "scale": {"domain": [0.476, 32.89], "range": [0, 643]}}
          }
        },
        {
          "data": {"values": [{}]},
          "mark": {"type": "text", "text": "Dotted line is today’s date.", "align": "left", "baseline": "middle", "font": "Lato", "fontWeight": "bold", "fontSize": 22.5, "color": "#7b2ff7"},
          "encoding": {
            "x": {"datum": {"year": 2006, "month": 11, "date": 27}, "type": "temporal", "scale": {"domain": [{"year": 2008, "month": 6, "date": 27}, {"year": 2022, "month": 4, "date": 22}]}},
            "y": {"datum": 1.333, "type": "quantitative", "scale": {"domain": [0.476, 32.89], "range": [0, 643]}}
          }
        },
        {
          "data": {"values": [{}]},
          "mark": {"type": "rule", "color": "#7b2ff7", "strokeWidth": 4.5},
          "encoding": {
            "x": {"datum": {"year": 2013, "month": 3, "date": 4}, "type": "temporal", "scale": {"domain": [{"year": 2008, "month": 6, "date": 27}, {"year": 2022, "month": 4, "date": 22}]}},
            "x2": {"datum": {"year": 2014, "month": 10, "date": 13}},
            "y": {"datum": 2.996, "type": "quantitative", "scale": {"domain": [0.476, 32.89], "range": [0, 643]}},
            "y2": {"datum": 5.113}
          }
        },
        {
          "data": {"values": [{}]},
          "mark": {"type": "point", "shape": "triangle-up", "angle": 132.7, "size": 300, "filled": true, "color": "#7b2ff7", "opacity": 1},
          "encoding": {
            "x": {"datum": {"year": 2014, "month": 10, "date": 13}, "type": "temporal", "scale": {"domain": [{"year": 2008, "month": 6, "date": 27}, {"year": 2022, "month": 4, "date": 22}]}},
            "y": {"datum": 5.113, "type": "quantitative", "scale": {"domain": [0.476, 32.89], "range": [0, 643]}}
          }
        },
        {
          "data": {"values": [{}]},
          "mark": {"type": "rect", "fill": "white", "stroke": "#7b2ff7", "strokeWidth": 2.5},
          "encoding": {
            "x": {"datum": {"year": 2018, "month": 2, "date": 20}, "type": "temporal", "scale": {"domain": [{"year": 2008, "month": 6, "date": 27}, {"year": 2022, "month": 4, "date": 22}]}},
            "x2": {"datum": {"year": 2029, "month": 12, "date": 20}},
            "y": {"datum": 25.577, "type": "quantitative", "scale": {"domain": [0.476, 32.89], "range": [0, 643]}},
            "y2": {"datum": 29.155}
          }
        },
        {
          "data": {"values": [{}]},
          "mark": {"type": "text", "text": "Filters to refine the data, eg.", "align": "left", "baseline": "middle", "font": "Lato", "fontWeight": "bold", "fontSize": 22.5, "color": "#7b2ff7"},
          "encoding": {
            "x": {"datum": {"year": 2018, "month": 11, "date": 14}, "type": "temporal", "scale": {"domain": [{"year": 2008, "month": 6, "date": 27}, {"year": 2022, "month": 4, "date": 22}]}},
            "y": {"datum": 26.535, "type": "quantitative", "scale": {"domain": [0.476, 32.89], "range": [0, 643]}}
          }
        },
        {
          "data": {"values": [{}]},
          "mark": {"type": "text", "text": "by city, state, country, etc.", "align": "left", "baseline": "middle", "font": "Lato", "fontWeight": "bold", "fontSize": 22.5, "color": "#7b2ff7"},
          "encoding": {
            "x": {"datum": {"year": 2018, "month": 11, "date": 14}, "type": "temporal", "scale": {"domain": [{"year": 2008, "month": 6, "date": 27}, {"year": 2022, "month": 4, "date": 22}]}},
            "y": {"datum": 28.047, "type": "quantitative", "scale": {"domain": [0.476, 32.89], "range": [0, 643]}}
          }
        },
        {
          "data": {"values": [{}]},
          "mark": {"type": "rule", "color": "#7b2ff7", "strokeWidth": 4.5},
          "encoding": {
            "x": {"datum": {"year": 2022, "month": 10, "date": 14}, "type": "temporal", "scale": {"domain": [{"year": 2008, "month": 6, "date": 27}, {"year": 2022, "month": 4, "date": 22}]}},
            "x2": {"datum": {"year": 2024, "month": 2, "date": 12}},
            "y": {"datum": 25.174, "type": "quantitative", "scale": {"domain": [0.476, 32.89], "range": [0, 643]}},
            "y2": {"datum": 22.608}
          }
        },
        {
          "data": {"values": [{}]},
          "mark": {"type": "point", "shape": "triangle-up", "angle": 36.7, "size": 300, "filled": true, "color": "#7b2ff7", "opacity": 1},
          "encoding": {
            "x": {"datum": {"year": 2024, "month": 2, "date": 12}, "type": "temporal", "scale": {"domain": [{"year": 2008, "month": 6, "date": 27}, {"year": 2022, "month": 4, "date": 22}]}},
            "y": {"datum": 22.608, "type": "quantitative", "scale": {"domain": [0.476, 32.89], "range": [0, 643]}}
          }
        }
      ]
    }
  ]
}
